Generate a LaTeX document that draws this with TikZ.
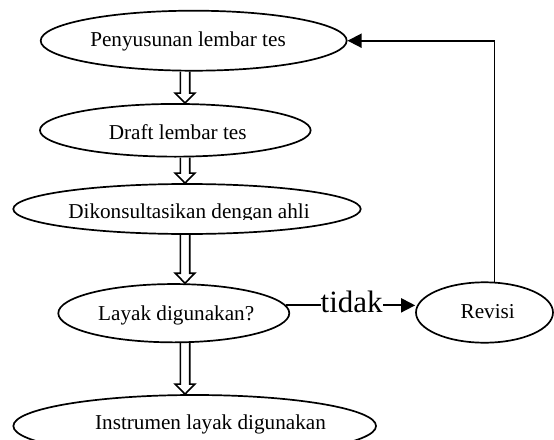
\documentclass[tikz,border=0pt]{standalone}
\usepackage{fontspec}
\setmainfont{Liberation Serif}
\usetikzlibrary{shapes.geometric,arrows.meta,calc}
\newcommand\hollowarr[2]{%
  \draw[hollow] let \p1=(#1), \p2=(#2) in
    (\x1-4.7pt,\y1) -- (\x1-4.7pt,\y2+10pt) -- (\x1-9.8pt,\y2+10pt) -- (\x1,\y2)
    -- (\x1+9.8pt,\y2+10pt) -- (\x1+4.7pt,\y2+10pt) -- (\x1+4.7pt,\y1);}
\begin{document}
\begin{tikzpicture}[x=1pt,y=-1pt,
  oval/.style={ellipse,draw,line width=1.7pt,inner sep=0pt},
  lbl/.style={anchor=base,inner sep=0pt,font=\fontsize{21.2}{24}\selectfont},
  conn/.style={line width=1.8pt,-{Triangle[length=14pt,width=14pt]}},
  hollow/.style={draw,line width=1.6pt,line join=miter}]
\useasboundingbox (0,0) rectangle (554,439);
% ovals
\node[oval,minimum width=306pt,minimum height=60pt] (e1) at (193.7,40.7) {};
\node[oval,minimum width=270.7pt,minimum height=52.7pt] (e2) at (175.3,130.3) {};
\node[oval,minimum width=347.4pt,minimum height=50pt] (e3) at (187,209) {};
\node[oval,minimum width=231pt,minimum height=58.3pt] (e4) at (173.8,313.2) {};
\node[oval,minimum width=137pt,minimum height=60.4pt] (rev) at (484.5,312.5) {};
\node[oval,minimum width=362.7pt,minimum height=62pt] (e5) at (194.7,426) {};
% texts
\node[lbl] (t1) at (188,46.7) {Penyusunan lembar tes};
\node[lbl] (t2) at (177.7,139.3) {Draft lembar tes};
\begin{scope}
  \clip (0,190) rectangle (554,219.3);
  \node[lbl] (t3) at (189,218.4) {Dikonsultasikan dengan ahli};
\end{scope}
\node[lbl] (t4) at (176.2,320.7) {Layak digunakan?};
\node[lbl] (trev) at (487.7,318.3) {Revisi};
\node[lbl] (t5) at (210.5,429) {Instrumen layak digunakan};
% hollow arrows
\coordinate (ax) at (185,0);
\hollowarr{e1.south -| ax}{e2.north -| ax}
\hollowarr{e2.south -| ax}{e3.north -| ax}
\hollowarr{e3.south -| ax}{e4.north -| ax}
\hollowarr{e4.south -| ax}{e5.north -| ax}
% connectors
\draw[conn] (e4.4) -- (rev.west |- e4.4);
\node[anchor=base,inner sep=0pt,fill=white,font=\fontsize{31}{34}\selectfont] (td) at (351.7,312.3) {tidak};
\draw[conn] (rev.72) |- (e1.east);
\end{tikzpicture}
\end{document}
